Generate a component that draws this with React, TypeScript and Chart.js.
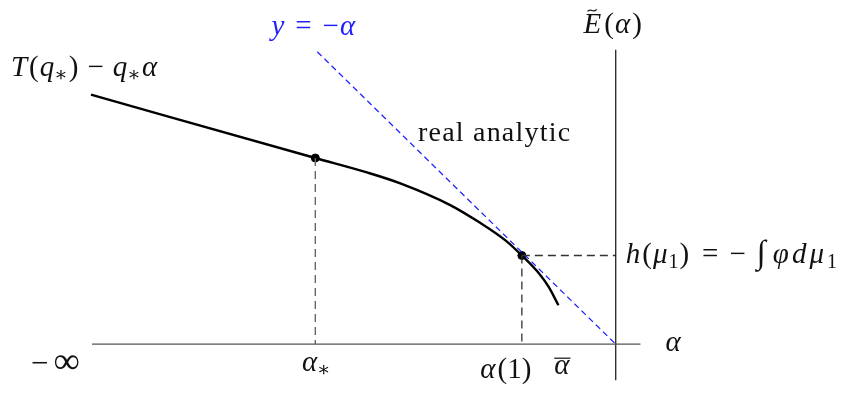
import React, { useEffect, useRef } from "react";
import { Chart, registerables } from "chart.js";

Chart.register(...registerables);

// Concave rate function: straight (affine) piece, then the real-analytic part
const curveAlpha = [-5.31, -3.04, -2.51, -2.18, -1.68, -1.38, -1.11, -0.95, -0.78, -0.68, -0.58];
const curveValue = [2.56, 1.91, 1.76, 1.65, 1.43, 1.25, 1.06, 0.91, 0.73, 0.59, 0.4];

// Marked points: alpha_* and alpha(1)
const markedAlpha = [-3.04, -0.95];
const markedValue = [1.91, 0.91];

// The line y = -alpha, drawn from its top end to where it meets the alpha axis
const diagAlpha = [-3.02, 0];
const diagValue = [3.0, 0];

// Axes: horizontal alpha axis and the vertical axis at alpha-bar
const hAxisAlpha = [-5.3, 0.25];
const vAxisValue = [3.02, -0.37];

// Position of the "real analytic" caption
const captionAt = [-2.0, 2.08];

const SERIF = '"Liberation Serif", "DejaVu Serif", serif';
const SIZE = 29;

type Run = { t: string; it?: boolean; sub?: boolean; gap?: number; size?: number };

function runFont(r: Run) {
  const sz = r.size || (r.sub ? Math.round(SIZE * 0.7) : SIZE);
  return `${r.it ? "italic " : ""}${sz}px ${SERIF}`;
}

function runsWidth(ctx: CanvasRenderingContext2D, runs: Run[]) {
  let w = 0;
  for (const r of runs) {
    ctx.font = runFont(r);
    w += (r.gap || 0) + ctx.measureText(r.t).width;
  }
  return w;
}

function drawRuns(
  ctx: CanvasRenderingContext2D,
  runs: Run[],
  x: number,
  y: number,
  color: string,
  align: "left" | "center" | "right" = "left"
) {
  const w = runsWidth(ctx, runs);
  let cx = align === "left" ? x : align === "center" ? x - w / 2 : x - w;
  const start = cx;
  ctx.save();
  ctx.fillStyle = color;
  ctx.textBaseline = "alphabetic";
  ctx.textAlign = "left";
  for (const r of runs) {
    ctx.font = runFont(r);
    cx += r.gap || 0;
    ctx.fillText(r.t, cx, r.sub ? y + 5 : y);
    cx += ctx.measureText(r.t).width;
  }
  ctx.restore();
  return { left: start, width: w };
}

const REL = 11; // space around relations
const BIN = 9; // space around binary operators

const labelPlugin = {
  id: "diagramLabels",
  afterDraw(chart: any) {
    const ctx: CanvasRenderingContext2D = chart.ctx;
    const xs = chart.scales.x;
    const ys = chart.scales.y;
    const px = (v: number) => xs.getPixelForValue(v);
    const py = (v: number) => ys.getPixelForValue(v);
    const black = "#111";
    const blue = "#1f1fff";

    // T(q*) - q* alpha
    drawRuns(
      ctx,
      [
        { t: "T", it: true },
        { t: "(", gap: 2 },
        { t: "q", it: true, gap: 1 },
        { t: "∗", sub: true },
        { t: ")", gap: 1 },
        { t: "−", gap: BIN },
        { t: "q", it: true, gap: BIN },
        { t: "∗", sub: true },
        { t: "α", it: true, gap: 1 },
      ],
      px(curveAlpha[0]) - 80,
      py(curveValue[0]) - 19,
      black
    );

    // y = -alpha
    drawRuns(
      ctx,
      [{ t: "y", it: true }, { t: "=", gap: REL }, { t: "−", gap: REL }, { t: "α", it: true, gap: 1 }],
      px(diagAlpha[0]) - 4,
      py(diagValue[0]) - 17,
      blue,
      "center"
    );

    // E-tilde(alpha)
    const eBase = py(vAxisValue[0]) - 17;
    const e = drawRuns(
      ctx,
      [{ t: "E", it: true }, { t: "(", gap: 3 }, { t: "α", it: true, gap: 1 }, { t: ")", gap: 2 }],
      px(0) - 3,
      eBase,
      black,
      "center"
    );
    ctx.save();
    ctx.strokeStyle = black;
    ctx.lineWidth = 1.3;
    ctx.beginPath();
    const tx = e.left + 4;
    const ty = eBase - 23;
    ctx.moveTo(tx, ty + 1.5);
    ctx.bezierCurveTo(tx + 3, ty - 2.5, tx + 6, ty + 4, tx + 9, ty - 0.5);
    ctx.stroke();
    ctx.restore();

    // real analytic
    ctx.save();
    (ctx as any).letterSpacing = "1.2px";
    ctx.font = `28px ${SERIF}`;
    ctx.fillStyle = black;
    ctx.textAlign = "left";
    ctx.fillText("real analytic", px(captionAt[0]), py(captionAt[1]));
    ctx.restore();

    // h(mu_1) = -∫ phi d mu_1
    drawRuns(
      ctx,
      [
        { t: "h", it: true, gap: 2 },
        { t: "(", gap: 2 },
        { t: "μ", it: true, gap: 1 },
        { t: "1", sub: true, gap: 1 },
        { t: ")", gap: 1 },
        { t: "=", gap: 13 },
        { t: "−", gap: 11 },
        { t: "∫", gap: 11, size: 33 },
        { t: "φ", it: true, gap: 7 },
        { t: "d", it: true, gap: 3 },
        { t: "μ", it: true, gap: 3 },
        { t: "1", sub: true, gap: 3 },
      ],
      px(0) + 8,
      py(markedValue[1]) + 8,
      black
    );

    // alpha axis label
    drawRuns(ctx, [{ t: "α", it: true }], px(hAxisAlpha[1]) + 25, py(0) + 7, black);

    // -infinity
    drawRuns(
      ctx,
      [{ t: "−", size: 31 }, { t: "∞", gap: 5, size: 37 }],
      px(curveAlpha[0]) - 11,
      py(0) + 29,
      black,
      "right"
    );

    // alpha_*
    drawRuns(
      ctx,
      [{ t: "α", it: true }, { t: "∗", sub: true }],
      px(markedAlpha[0]) + 1,
      py(0) + 27,
      black,
      "center"
    );

    // alpha(1)
    drawRuns(
      ctx,
      [{ t: "α", it: true }, { t: "(1)", gap: 2 }],
      px(markedAlpha[1]) - 16,
      py(0) + 34,
      black,
      "center"
    );

    // alpha-bar
    const ab = drawRuns(ctx, [{ t: "α", it: true }], px(markedAlpha[1]) + 40, py(0) + 30, black, "center");
    ctx.save();
    ctx.strokeStyle = black;
    ctx.lineWidth = 1.2;
    ctx.beginPath();
    ctx.moveTo(ab.left, py(0) + 14);
    ctx.lineTo(ab.left + ab.width + 1, py(0) + 14);
    ctx.stroke();
    ctx.restore();
  },
};

const pts = (xs: number[], ys: number[]) => xs.map((x, i) => ({ x, y: ys[i] }));

export default function App() {
  const ref = useRef<HTMLCanvasElement>(null);

  useEffect(() => {
    if (!ref.current) return;
    const guideColor = "#333";
    const chart = new Chart(ref.current, {
      type: "line",
      data: {
        datasets: [
          {
            // horizontal alpha axis
            data: pts(hAxisAlpha, [0, 0]),
            borderColor: "#555",
            borderWidth: 1.3,
            pointRadius: 0,
          },
          {
            // vertical axis
            data: pts([0, 0], vAxisValue),
            borderColor: "#111",
            borderWidth: 1.2,
            pointRadius: 0,
          },
          {
            // drop line at alpha_*
            data: pts([markedAlpha[0], markedAlpha[0]], [markedValue[0], 0]),
            borderColor: "#666",
            borderWidth: 1.4,
            borderDash: [8, 5],
            pointRadius: 0,
          },
          {
            // drop line at alpha(1)
            data: pts([markedAlpha[1], markedAlpha[1]], [markedValue[1], 0]),
            borderColor: guideColor,
            borderWidth: 1.3,
            borderDash: [8, 5],
            pointRadius: 0,
          },
          {
            // level line h(mu_1)
            data: pts([markedAlpha[1], 0], [markedValue[1], markedValue[1]]),
            borderColor: guideColor,
            borderWidth: 1.3,
            borderDash: [8, 5],
            pointRadius: 0,
          },
          {
            // y = -alpha
            data: pts(diagAlpha, diagValue),
            borderColor: "#1f1fff",
            borderWidth: 1.2,
            borderDash: [6, 4],
            pointRadius: 0,
          },
          {
            // the curve
            data: pts(curveAlpha, curveValue),
            borderColor: "#000",
            borderWidth: 2.4,
            pointRadius: 0,
            cubicInterpolationMode: "monotone",
          },
          {
            // marked points
            data: pts(markedAlpha, markedValue),
            showLine: false,
            pointRadius: 4,
            pointBackgroundColor: "#000",
            pointBorderColor: "#000",
          },
        ],
      },
      options: {
        responsive: false,
        animation: false,
        layout: { padding: 0 },
        plugins: {
          legend: { display: false },
          title: { display: false },
          tooltip: { enabled: false },
        },
        events: [],
        scales: {
          x: { type: "linear", display: false, min: -6.18, max: 2.33 },
          y: { type: "linear", display: false, min: -0.47, max: 3.48 },
        },
      },
      plugins: [labelPlugin],
    });
    return () => chart.destroy();
  }, []);

  return (
    <div style={{ position: "fixed", left: 0, top: 0, width: 851, height: 395, background: "#fff" }}>
      <canvas ref={ref} width={851} height={395} style={{ display: "block" }} />
    </div>
  );
}
